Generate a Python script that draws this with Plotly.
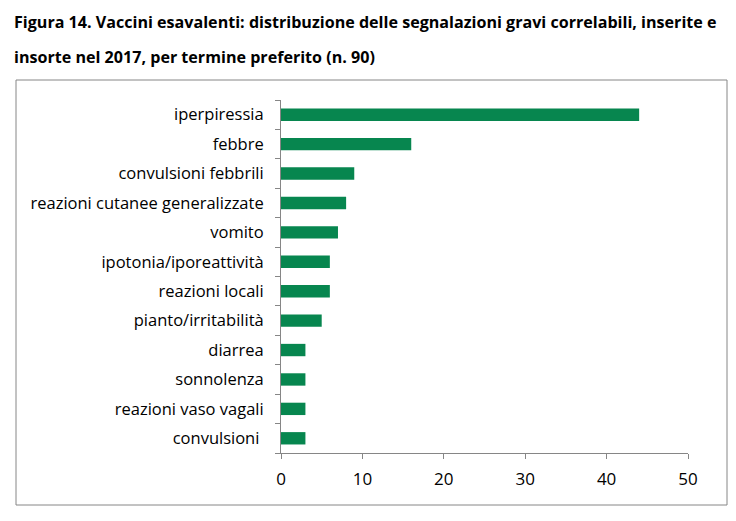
import plotly.graph_objects as go

categories = ["iperpiressia", "febbre", "convulsioni febbrili", "reazioni cutanee generalizzate",
              "vomito", "ipotonia/iporeattività", "reazioni locali", "pianto/irritabilità",
              "diarrea", "sonnolenza", "reazioni vaso vagali", "convulsioni "]
values = [44, 16, 9, 8, 7, 6, 6, 5, 3, 3, 3, 3]
x_ticks = [0, 10, 20, 30, 40, 50]
title_line1 = "Figura 14. Vaccini esavalenti: distribuzione delle segnalazioni gravi correlabili, inserite e"
title_line2 = "insorte nel 2017, per termine preferito (n. 90)"

OFF = 8  # page offset of the figure in the browser
W, H = 736 - OFF, 521 - OFF
L, R, T, B = 281 - OFF, 736 - 688, 100 - OFF, 521 - 453
pw, ph = W - L - R, H - T - B

def px_x(px):
    return (px - OFF - L) / pw

def px_y(py):
    return (H - B - (py - OFF)) / ph

FONT = "Open Sans, Noto Sans, sans-serif"

fig = go.Figure(go.Bar(
    x=values, y=categories, orientation="h",
    marker=dict(color="#07864f", line=dict(width=0)),
    width=0.42,
))

fig.update_layout(
    width=W, height=H,
    margin=dict(l=L, r=R, t=T, b=B),
    paper_bgcolor="white", plot_bgcolor="white",
    showlegend=False,
    font=dict(family=FONT, size=16, color="#000000"),
    xaxis=dict(range=[0, 50], tickvals=x_ticks, showgrid=False, zeroline=False,
               showline=True, linecolor="#868686", linewidth=1,
               ticks="outside", ticklen=5, tickcolor="#868686",
               ticklabelstandoff=6,
               tickfont=dict(size=17, family=FONT)),
    yaxis=dict(categoryorder="array", categoryarray=categories[::-1],
               showgrid=False, zeroline=False, showline=True, linecolor="#868686",
               linewidth=1, ticks="outside", ticklen=5, tickcolor="#868686",
               tickson="boundaries", ticklabelstandoff=13,
               tickfont=dict(size=16.5, family=FONT)),
    shapes=[dict(type="rect", xref="paper", yref="paper",
                 x0=px_x(16), x1=px_x(727), y0=px_y(505), y1=px_y(80),
                 line=dict(color="#868686", width=1), fillcolor="rgba(0,0,0,0)", layer="below")],
    annotations=[
        dict(text="<b>" + title_line1 + "</b>", xref="paper", yref="paper",
             x=px_x(12), y=px_y(22), xanchor="left", yanchor="middle", showarrow=False,
             font=dict(size=16.1, family=FONT)),
        dict(text="<b>" + title_line2 + "</b>", xref="paper", yref="paper",
             x=px_x(12), y=px_y(57), xanchor="left", yanchor="middle", showarrow=False,
             font=dict(size=16.1, family=FONT)),
    ],
)

fig.write_html("out.html")
